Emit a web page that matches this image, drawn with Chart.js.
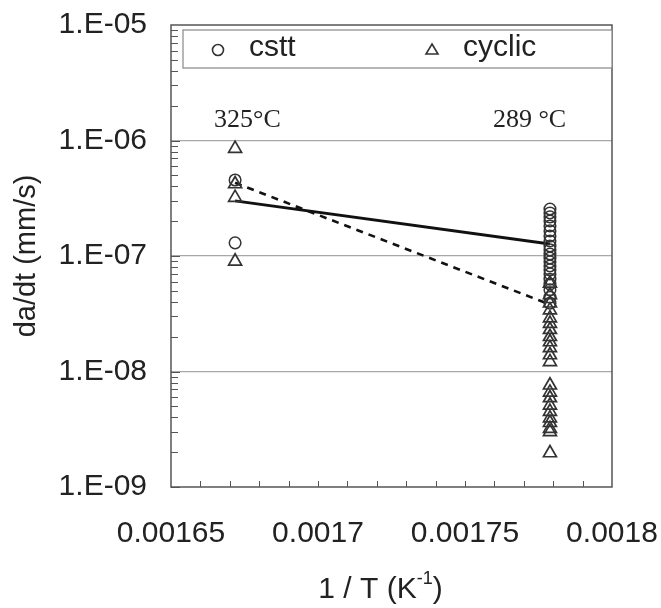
<!DOCTYPE html>
<html>
<head>
<meta charset="utf-8">
<script src="https://cdn.jsdelivr.net/npm/chart.js@4.4.1/dist/chart.umd.min.js"></script>
<style>
  html, body { margin: 0; padding: 0; background: #fff; }
</style>
</head>
<body>
<canvas id="arrhenius" width="661" height="608"></canvas>
<script>
// 1/T for the two test temperatures (325 °C and 289 °C)
var xHot = 0.0016718;
var xCold = 0.0017789;

// cstt (constant load) rates, mm/s
var csttHot = [4.55e-7, 1.3e-7];
var csttCold = [2.55e-7, 2.36e-7, 2.18e-7, 2.01e-7, 1.82e-7, 1.65e-7, 1.49e-7, 1.35e-7,
                1.22e-7, 1.13e-7, 1.04e-7, 9.6e-8, 8.9e-8, 8.2e-8, 7.6e-8, 7.0e-8,
                6.3e-8, 5.7e-8, 5.1e-8, 4.4e-8, 3.9e-8];

// cyclic rates, mm/s
var cyclicHot = [8.5e-7, 4.2e-7, 3.2e-7, 9.0e-8];
var cyclicCold = [5.8e-8, 4.6e-8, 3.9e-8, 3.4e-8, 2.9e-8, 2.6e-8, 2.3e-8, 2.0e-8,
                  1.8e-8, 1.6e-8, 1.39e-8, 1.21e-8, 7.6e-9, 6.6e-9, 5.9e-9, 5.1e-9,
                  4.5e-9, 3.95e-9, 3.6e-9, 3.2e-9, 3.0e-9, 1.97e-9];

// fitted trend lines (end points)
var fitX = [xHot, xCold];
var csttFit = [3.0e-7, 1.27e-7];
var cyclicFit = [4.3e-7, 3.8e-8];

// axes
var xMin = 0.00165, xMax = 0.0018;
var yMin = 1e-9, yMax = 1e-5;
var xLabels = [0.00165, 0.0017, 0.00175, 0.0018];

function pts(x, ys) {
  return ys.map(function (y) { return { x: x, y: y }; });
}

var sans = '"Liberation Sans", Arial, sans-serif';
var serif = '"Liberation Serif", "Times New Roman", serif';
var ink = '#222';

function isDecade(v) {
  var l = Math.log10(v);
  return Math.abs(l - Math.round(l)) < 1e-6;
}

var extras = {
  id: 'extras',
  afterDraw: function (chart) {
    var c = chart.ctx, a = chart.chartArea;
    var xs = chart.scales.x, ys = chart.scales.y;
    c.save();
    // minor ticks, pointing inward
    c.strokeStyle = '#555';
    c.lineWidth = 1;
    for (var e = -9; e < -5; e++) {
      for (var m = 2; m <= 9; m++) {
        var py = Math.round(ys.getPixelForValue(m * Math.pow(10, e))) + 0.5;
        c.beginPath(); c.moveTo(a.left, py); c.lineTo(a.left + 7, py); c.stroke();
      }
      var pd = Math.round(ys.getPixelForValue(Math.pow(10, e))) + 0.5;
      c.beginPath(); c.moveTo(a.left, pd); c.lineTo(a.left + 9, pd); c.stroke();
    }
    for (var i = 1; i < 15; i++) {
      var px = Math.round(xs.getPixelForValue(xMin + i * 0.00001)) + 0.5;
      c.beginPath(); c.moveTo(px, a.bottom); c.lineTo(px, a.bottom - 6); c.stroke();
    }
    // frame
    c.strokeStyle = '#555';
    c.lineWidth = 1.5;
    c.strokeRect(a.left, a.top, a.right - a.left, a.bottom - a.top);

    // legend box
    var lx = a.left + 12, ly = a.top + 5, lw = a.right - lx, lh = 38;
    c.fillStyle = '#fff';
    c.fillRect(lx, ly, lw, lh);
    c.strokeStyle = '#888';
    c.lineWidth = 1.2;
    c.strokeRect(lx, ly, lw, lh);
    var my = ly + lh / 2;
    c.strokeStyle = '#333';
    c.lineWidth = 1.6;
    c.beginPath(); c.arc(lx + 35, my + 1, 5.5, 0, Math.PI * 2); c.stroke();
    c.beginPath();
    c.moveTo(lx + 249, my - 5); c.lineTo(lx + 255, my + 5); c.lineTo(lx + 243, my + 5); c.closePath();
    c.stroke();
    c.fillStyle = ink;
    c.font = '30px ' + sans;
    c.textBaseline = 'middle';
    c.textAlign = 'left';
    c.fillText('cstt', lx + 66, my - 1);
    c.fillText('cyclic', lx + 280, my - 1);

    // temperature annotations
    c.font = '26px ' + serif;
    c.fillStyle = ink;
    c.textBaseline = 'middle';
    var ay = ys.getPixelForValue(1.5e-6);
    c.fillText('325\u00B0C', xs.getPixelForValue(xHot) - 21, ay);
    c.fillText('289 \u00B0C', xs.getPixelForValue(xCold) - 57, ay);

    // x axis title with superscript
    c.font = '30px ' + sans;
    var t1 = '1 / T (K', t2 = '-1', t3 = ')';
    var w1 = c.measureText(t1).width, w3 = c.measureText(t3).width;
    c.font = '18px ' + sans;
    var w2 = c.measureText(t2).width;
    var tx = (a.left + a.right) / 2 - (w1 + w2 + w3) / 2 - 11;
    var ty = 598;
    c.textBaseline = 'alphabetic';
    c.font = '30px ' + sans;
    c.fillText(t1, tx, ty);
    c.font = '18px ' + sans;
    c.fillText(t2, tx + w1, ty - 14);
    c.font = '30px ' + sans;
    c.fillText(t3, tx + w1 + w2, ty);
    c.restore();
  }
};

var ctx = document.getElementById('arrhenius').getContext('2d');
var chart = new Chart(ctx, {
  type: 'scatter',
  data: {
    datasets: [{
      label: 'cstt',
      data: pts(xHot, csttHot).concat(pts(xCold, csttCold)),
      pointStyle: 'circle',
      pointRadius: 5.8,
      borderColor: '#333',
      borderWidth: 1.5,
      backgroundColor: 'rgba(0,0,0,0)'
    }, {
      label: 'cyclic',
      data: pts(xHot, cyclicHot).concat(pts(xCold, cyclicCold)),
      pointStyle: 'triangle',
      pointRadius: 7.5,
      borderColor: '#333',
      borderWidth: 1.7,
      backgroundColor: 'rgba(0,0,0,0)'
    }, {
      label: 'cstt fit',
      data: fitX.map(function (x, i) { return { x: x, y: csttFit[i] }; }),
      showLine: true,
      pointRadius: 0,
      borderColor: '#111',
      borderWidth: 2.8
    }, {
      label: 'cyclic fit',
      data: fitX.map(function (x, i) { return { x: x, y: cyclicFit[i] }; }),
      showLine: true,
      pointRadius: 0,
      borderColor: '#111',
      borderWidth: 2.6,
      borderDash: [7, 6]
    }]
  },
  options: {
    responsive: false,
    animation: false,
    layout: { padding: { left: 0, right: 49, top: 25, bottom: 0 } },
    plugins: { legend: { display: false }, tooltip: { enabled: false } },
    scales: {
      x: {
        type: 'linear',
        min: xMin,
        max: xMax,
        afterBuildTicks: function (s) {
          s.ticks = xLabels.map(function (v) { return { value: v }; });
        },
        afterFit: function (s) {
          s.height = 121;
          s.paddingLeft = 0; s.paddingRight = 0;
        },
        ticks: {
          font: { family: sans, size: 30 },
          color: ink,
          padding: 29,
          maxRotation: 0,
          autoSkip: false,
          callback: function (v) { return String(v); }
        },
        grid: { display: false, drawTicks: false },
        border: { display: false }
      },
      y: {
        type: 'logarithmic',
        min: yMin,
        max: yMax,
        afterFit: function (s) {
          s.width = 171;
          s.paddingTop = 0; s.paddingBottom = 0;
        },
        ticks: {
          font: { family: sans, size: 30 },
          color: ink,
          padding: 24,
          autoSkip: false,
          callback: function (v) {
            if (!isDecade(v)) return '';
            var e = -Math.round(Math.log10(v));
            return '1.E-' + (e < 10 ? '0' + e : e);
          }
        },
        grid: {
          drawTicks: false,
          lineWidth: 1.2,
          color: function (c) {
            var v = c.tick && c.tick.value;
            if (v && isDecade(v) && v > yMin * 1.01 && v < yMax * 0.99) return '#a8a8a8';
            return 'rgba(0,0,0,0)';
          }
        },
        border: { display: false },
        title: {
          display: true,
          text: 'da/dt (mm/s)',
          font: { family: sans, size: 29 },
          color: ink,
          padding: { top: 10, bottom: 0 }
        }
      }
    }
  },
  plugins: [extras]
});
</script>
</body>
</html>
